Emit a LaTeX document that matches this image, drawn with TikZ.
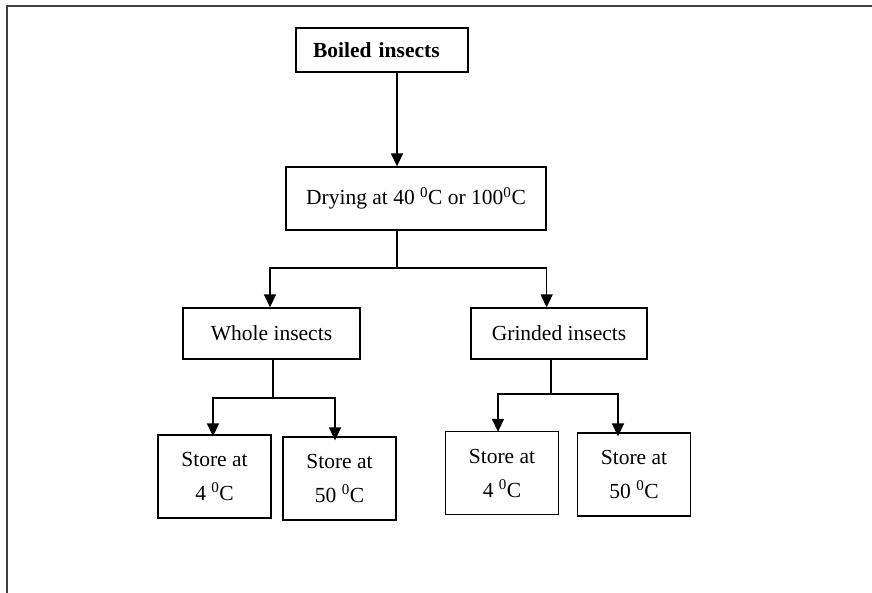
\documentclass[tikz,border=0pt]{standalone}
\usepackage{fontspec}
\setmainfont{Liberation Serif}
\usetikzlibrary{arrows.meta}
\newcommand{\dg}{\textsuperscript{0}}
\tikzset{
  box/.style={draw, line width=1.3pt, inner sep=0pt, align=center,
    font=\fontsize{21.5}{34}\selectfont},
  storebox/.style={box, minimum width=113pt, minimum height=83pt},
  link/.style={line width=1.5pt},
  arr/.style={link, -{Triangle[length=13pt,width=12pt]}},
  frameline/.style={line width=1.2pt, draw=black!75}
}
\begin{document}
\begin{tikzpicture}[x=1pt, y=-1pt]
  \useasboundingbox (0,0) rectangle (872,593);
  % open frame: top edge and left edge only
  \coordinate (fa) at (872,6);
  \coordinate (fb) at (7,6);
  \coordinate (fc) at (7,593);
  \draw[frameline] (fa) -- (fb) -- (fc);

  % boxes
  \node[box, minimum height=44pt, text width=138pt, inner xsep=17pt, align=left,
        font=\fontsize{21.5}{34}\selectfont\bfseries] (boiled) at (382,50) {Boiled insects};
  \node[box, minimum width=260pt, minimum height=63pt] (drying) at (416,198.5)
        {Drying at 40 \dg C or 100\dg C};
  \node[box, minimum width=177pt, minimum height=51pt] (whole) at (271.5,333.5) {Whole insects};
  \node[box, minimum width=176pt, minimum height=51pt] (grinded) at (559,333.5) {Grinded insects};
  \node[storebox] (s1) at (214.5,476.5) {Store at\\4 \dg C};
  \node[storebox] (s2) at (339.5,478.5) {Store at\\50 \dg C};
  \node[storebox] (s3) at (502,473) {Store at\\4 \dg C};
  \node[storebox] (s4) at (634,474.5) {Store at\\50 \dg C};

  % junction points of the branching connectors
  \coordinate (j1) at (397,268);
  \coordinate (j1l) at (270,268);
  \coordinate (j2) at (273,398);
  \coordinate (j2l) at (213,398);
  \coordinate (j2r) at (335,398);
  \coordinate (j3) at (551,394);
  \coordinate (j3l) at (498,394);
  \coordinate (j3r) at (618,394);

  % connectors
  \draw[arr] (boiled.south -| j1) -- (drying.north -| j1);

  \draw[link] (drying.south -| j1) -- (j1);
  \draw[arr] (j1) -- (j1l) -- (whole.north -| j1l);
  \draw[arr] (j1) -- (j1 -| drying.east) -- (grinded.north -| drying.east);

  \draw[link] (whole.south -| j2) -- (j2);
  \draw[arr] (j2) -- (j2l) -- ([yshift=-2pt]s1.north -| j2l);
  \draw[arr] (j2) -- (j2r) -- ([yshift=-4pt]s2.north -| j2r);

  \draw[link] (grinded.south -| j3) -- (j3);
  \draw[arr] (j3) -- (j3l) -- ([yshift=-1pt]s3.north -| j3l);
  \draw[arr] (j3) -- (j3r) -- ([yshift=-4pt]s4.north -| j3r);
\end{tikzpicture}
\end{document}
